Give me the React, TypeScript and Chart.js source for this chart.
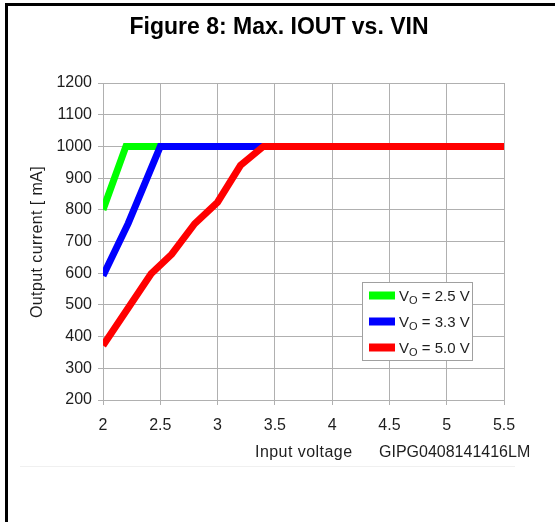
import React, { useEffect, useRef } from "react";
import { Chart, registerables } from "chart.js";

Chart.register(...registerables);

// ---- data ----
const vin25 = [2, 2.2, 2.5];
const iout25 = [800, 1000, 1000];
const vin33 = [2, 2.22, 2.5, 3.4];
const iout33 = [592, 757, 1000, 1000];
const vin50 = [2, 2.42, 2.6, 2.8, 3.0, 3.2, 3.4, 5.5];
const iout50 = [372, 598, 660, 756, 824, 940, 1000, 1000];
const seriesLabels = ["2.5 V", "3.3 V", "5.0 V"];
const seriesColors = ["#00ff00", "#0000ff", "#ff0000"];
const xMin = 2;
const xMax = 5.5;
const xStep = 0.5;
const yMin = 200;
const yMax = 1200;
const yStep = 100;
const titleText = "Figure 8: Max. IOUT vs. VIN";
const yTitleText = "Output current [ mA]";
const xTitleText = "Input voltage";
const figIdText = "GIPG0408141416LM";

const FONT = '"Liberation Sans", Arial, Helvetica, sans-serif';
const TEXT_COLOR = "#1e1e1e";
const GRID_COLOR = "#b0b0b0";

function toPoints(xs: number[], ys: number[]) {
  return xs.map((x, i) => ({ x, y: ys[i] }));
}

const decorPlugin = {
  id: "decor",
  afterDraw(chart: any) {
    const ctx = chart.ctx as any;
    const a = chart.chartArea;
    ctx.save();
    // frame
    ctx.fillStyle = "#000";
    ctx.fillRect(5, 3, 550, 3);
    ctx.fillRect(5, 3, 3, 519);

    // title
    ctx.fillStyle = "#000";
    ctx.font = `bold 23px ${FONT}`;
    ctx.textAlign = "center";
    ctx.textBaseline = "alphabetic";
    ctx.fillText(titleText, 279, 34);

    // y title
    ctx.fillStyle = TEXT_COLOR;
    ctx.font = `16px ${FONT}`;
    ctx.save();
    ctx.letterSpacing = "0.4px";
    ctx.translate(38, 242);
    ctx.rotate(-Math.PI / 2);
    ctx.textAlign = "center";
    ctx.textBaseline = "middle";
    ctx.fillText(yTitleText, 0, 0);
    ctx.restore();

    // x title + figure id
    ctx.textAlign = "left";
    ctx.textBaseline = "middle";
    ctx.save();
    ctx.letterSpacing = "0.45px";
    ctx.fillText(xTitleText, 255, 453);
    ctx.restore();
    ctx.fillText(figIdText, 379, 453);

    // faint separator
    ctx.fillStyle = "#f0f0f0";
    ctx.fillRect(20, 466, 495, 1);

    // legend
    const lx = a.right - 142;
    const ly = a.top + 199;
    const lw = 110;
    const lh = 78;
    ctx.fillStyle = "#fff";
    ctx.fillRect(lx, ly, lw, lh);
    ctx.strokeStyle = "#a0a0a0";
    ctx.lineWidth = 1;
    ctx.strokeRect(lx + 0.5, ly + 0.5, lw, lh);
    for (let i = 0; i < seriesLabels.length; i++) {
      const cy = ly + 13.5 + i * 26;
      ctx.fillStyle = seriesColors[i];
      ctx.fillRect(lx + 7, cy - 4, 26, 8);
      ctx.fillStyle = TEXT_COLOR;
      ctx.textBaseline = "alphabetic";
      ctx.textAlign = "left";
      let tx = lx + 37;
      const base = cy + 5.5;
      ctx.font = `15px ${FONT}`;
      ctx.fillText("V", tx, base);
      tx += ctx.measureText("V").width;
      ctx.font = `11px ${FONT}`;
      ctx.fillText("O", tx, base + 3);
      tx += ctx.measureText("O").width;
      ctx.font = `15px ${FONT}`;
      ctx.fillText(" = " + seriesLabels[i], tx, base);
    }
    ctx.restore();
  },
};

export default function App() {
  const canvasRef = useRef<HTMLCanvasElement | null>(null);

  useEffect(() => {
    const canvas = canvasRef.current;
    if (!canvas) return;
    const lineDs = (label: string, xs: number[], ys: number[], color: string, order: number) => ({
      label,
      data: toPoints(xs, ys),
      borderColor: color,
      backgroundColor: color,
      borderWidth: 7,
      pointRadius: 0,
      pointHoverRadius: 0,
      tension: 0,
      fill: false,
      order,
      borderJoinStyle: "miter" as const,
    });
    const chart = new Chart(canvas, {
      type: "line",
      data: {
        datasets: [
          lineDs(seriesLabels[0], vin25, iout25, seriesColors[0], 2),
          lineDs(seriesLabels[1], vin33, iout33, seriesColors[1], 1),
          lineDs(seriesLabels[2], vin50, iout50, seriesColors[2], 0),
        ],
      },
      options: {
        responsive: false,
        animation: false,
        devicePixelRatio: 1,
        layout: { padding: { left: 0, top: 83, right: 51, bottom: 92 } },
        plugins: {
          legend: { display: false },
          title: { display: false },
          tooltip: { enabled: false },
        },
        scales: {
          x: {
            type: "linear",
            min: xMin,
            max: xMax,
            ticks: {
              stepSize: xStep,
              font: { size: 16, family: FONT },
              color: TEXT_COLOR,
              padding: 11,
              maxRotation: 0,
              callback: (v: any) => String(v),
            },
            grid: { color: GRID_COLOR, tickLength: 5, drawTicks: true },
            border: { color: GRID_COLOR },
            afterFit: (s: any) => {
              s.height = 30;
            },
          },
          y: {
            type: "linear",
            min: yMin,
            max: yMax,
            ticks: {
              stepSize: yStep,
              font: { size: 16, family: FONT },
              color: TEXT_COLOR,
              padding: 6,
              callback: (v: any) => String(v),
            },
            grid: { color: GRID_COLOR, tickLength: 5, drawTicks: true },
            border: { color: GRID_COLOR },
            afterFit: (s: any) => {
              s.width = 103;
            },
          },
        },
      },
      plugins: [decorPlugin],
    });
    return () => chart.destroy();
  }, []);

  return (
    <div style={{ position: "absolute", left: 0, top: 0, width: 555, height: 522, background: "#fff" }}>
      <canvas ref={canvasRef} width={555} height={522} style={{ display: "block" }} />
    </div>
  );
}
